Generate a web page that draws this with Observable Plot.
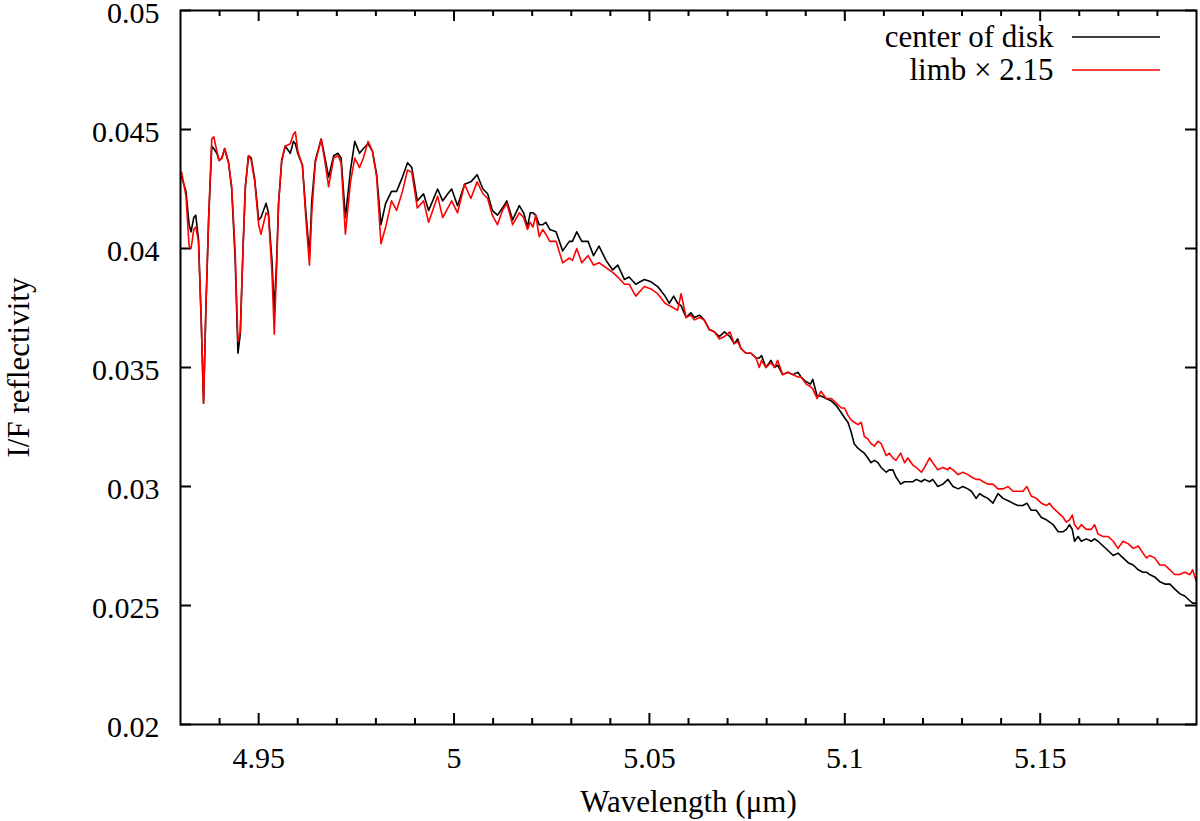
<!DOCTYPE html>
<html>
<head>
<meta charset="utf-8">
<script src="https://cdn.jsdelivr.net/npm/d3@7"></script>
<script src="https://cdn.jsdelivr.net/npm/@observablehq/plot@0.6"></script>
<style>
  html, body { margin: 0; padding: 0; background: #fff; }
  #chart { position: relative; width: 1200px; height: 821px; }
</style>
</head>
<body>
<div id="chart"></div>
<script>
// Wavelength grid (µm) shared by both spectra
const wavelength = [
  4.9303, 4.9314, 4.9322, 4.9327, 4.9334, 4.9339, 4.9346, 4.9353, 4.9359, 4.9365,
  4.9372, 4.9380, 4.9385, 4.9393, 4.9399, 4.9406, 4.9413, 4.9423, 4.9431, 4.9440,
  4.9447, 4.9453, 4.9460, 4.9466, 4.9474, 4.9481, 4.9490, 4.9500, 4.9506, 4.9519,
  4.9525, 4.9534, 4.9540, 4.9546, 4.9551, 4.9559, 4.9568, 4.9581, 4.9589, 4.9594,
  4.9600, 4.9612, 4.9621, 4.9630, 4.9636, 4.9645, 4.9660, 4.9671, 4.9679, 4.9692,
  4.9703, 4.9711, 4.9722, 4.9735, 4.9746, 4.9758, 4.9768, 4.9780, 4.9791, 4.9802,
  4.9813, 4.9825, 4.9840, 4.9853, 4.9868, 4.9881, 4.9892, 4.9906, 4.9922, 4.9935,
  4.9958, 4.9971, 4.9984, 4.9994, 5.0009, 5.0027, 5.0043, 5.0059, 5.0074, 5.0086,
  5.0098, 5.0111, 5.0124, 5.0135, 5.0150, 5.0167, 5.0178, 5.0188, 5.0195, 5.0202,
  5.0209, 5.0218, 5.0227, 5.0235, 5.0245, 5.0261, 5.0278, 5.0295, 5.0303, 5.0314,
  5.0327, 5.0343, 5.0357, 5.0371, 5.0389, 5.0406, 5.0419, 5.0436, 5.0448, 5.0465,
  5.0487, 5.0504, 5.0521, 5.0540, 5.0551, 5.0562, 5.0572, 5.0581, 5.0594, 5.0606,
  5.0615, 5.0628, 5.0640, 5.0653, 5.0666, 5.0679, 5.0692, 5.0706, 5.0717, 5.0726,
  5.0734, 5.0747, 5.0760, 5.0773, 5.0781, 5.0787, 5.0798, 5.0811, 5.0820, 5.0828,
  5.0841, 5.0854, 5.0867, 5.0880, 5.0888, 5.0901, 5.0912, 5.0918, 5.0929, 5.0939,
  5.0952, 5.0965, 5.0978, 5.0991, 5.0999, 5.1008, 5.1016, 5.1024, 5.1034, 5.1042,
  5.1050, 5.1059, 5.1067, 5.1076, 5.1085, 5.1093, 5.1106, 5.1114, 5.1123, 5.1131,
  5.1143, 5.1153, 5.1161, 5.1174, 5.1183, 5.1196, 5.1204, 5.1217, 5.1225, 5.1238,
  5.1251, 5.1264, 5.1268, 5.1277, 5.1290, 5.1302, 5.1315, 5.1324, 5.1336, 5.1345,
  5.1354, 5.1366, 5.1379, 5.1392, 5.1405, 5.1418, 5.1430, 5.1443, 5.1456, 5.1466,
  5.1477, 5.1490, 5.1503, 5.1516, 5.1524, 5.1533, 5.1546, 5.1559, 5.1567, 5.1575,
  5.1582, 5.1588, 5.1597, 5.1605, 5.1618, 5.1631, 5.1639, 5.1648, 5.1661, 5.1674,
  5.1687, 5.1699, 5.1712, 5.1725, 5.1738, 5.1751, 5.1763, 5.1772, 5.1780, 5.1793,
  5.1806, 5.1819, 5.1832, 5.1844, 5.1857, 5.1870, 5.1883, 5.1890, 5.1900
];

// I/F at the centre of the disk
const centerOfDisk = [
  0.0430, 0.0424, 0.0410, 0.0407, 0.0413, 0.0414, 0.0404, 0.0370, 0.0335, 0.0375,
  0.0412, 0.0443, 0.0442, 0.0440, 0.0437, 0.0438, 0.0442, 0.0436, 0.0425, 0.0395,
  0.0356, 0.0364, 0.0400, 0.0426, 0.0439, 0.0438, 0.0429, 0.0412, 0.0413, 0.0419,
  0.0415, 0.0395, 0.0374, 0.0395, 0.0419, 0.0437, 0.0443, 0.0440, 0.0445, 0.0444,
  0.0440, 0.0435, 0.0415, 0.0397, 0.0420, 0.0437, 0.0446, 0.0437, 0.0430, 0.0439,
  0.0440, 0.0438, 0.0413, 0.0433, 0.0445, 0.0440, 0.0442, 0.0444, 0.0441, 0.0431,
  0.0410, 0.0419, 0.0424, 0.0424, 0.0430, 0.0436, 0.0434, 0.0420, 0.0423, 0.0416,
  0.0425, 0.0420, 0.0423, 0.0425, 0.0418, 0.0427, 0.0428, 0.0431, 0.0425, 0.0423,
  0.0416, 0.0414, 0.0417, 0.0420, 0.0412, 0.0418, 0.0415, 0.0409, 0.0415, 0.0415,
  0.0414, 0.0410, 0.0410, 0.0411, 0.0408, 0.0407, 0.0399, 0.0403, 0.0403, 0.0407,
  0.0403, 0.0403, 0.0397, 0.0401, 0.0395, 0.0391, 0.0393, 0.0387, 0.0388, 0.0385,
  0.0387, 0.0386, 0.0384, 0.0380, 0.0377, 0.0380, 0.0377, 0.0376, 0.0371, 0.0373,
  0.0371, 0.0372, 0.0370, 0.0366, 0.0365, 0.0363, 0.0365, 0.0363, 0.0360, 0.0362,
  0.0358, 0.0356, 0.0356, 0.0354, 0.0354, 0.0355, 0.0350, 0.0353, 0.0350, 0.0351,
  0.0347, 0.0348, 0.0347, 0.0348, 0.0346, 0.0344, 0.0343, 0.0345, 0.0338, 0.0338,
  0.0337, 0.0336, 0.0334, 0.0331, 0.0329, 0.0327, 0.0323, 0.0318, 0.0316, 0.0315,
  0.0314, 0.0312, 0.0310, 0.0311, 0.0310, 0.0308, 0.0306, 0.0307, 0.0307, 0.0304,
  0.0301, 0.0302, 0.0302, 0.0302, 0.0303, 0.0302, 0.0303, 0.0302, 0.0303, 0.0300,
  0.0301, 0.0303, 0.0302, 0.0300, 0.0299, 0.0300, 0.0299, 0.0298, 0.0295, 0.0297,
  0.0296, 0.0295, 0.0293, 0.0297, 0.0295, 0.0294, 0.0293, 0.0292, 0.0292, 0.0293,
  0.0290, 0.0290, 0.0287, 0.0286, 0.0285, 0.0284, 0.0281, 0.0281, 0.0282, 0.0284,
  0.0282, 0.0277, 0.0279, 0.0277, 0.0278, 0.0277, 0.0278, 0.0277, 0.0275, 0.0273,
  0.0271, 0.0272, 0.0270, 0.0268, 0.0267, 0.0265, 0.0264, 0.0264, 0.0263, 0.0262,
  0.0260, 0.0259, 0.0259, 0.0257, 0.0255, 0.0254, 0.0252, 0.0251, 0.0251
];

// I/F at the limb, multiplied by 2.15
const limbScaled = [
  0.0432, 0.0422, 0.0401, 0.0400, 0.0408, 0.0409, 0.0403, 0.0370, 0.0335, 0.0375,
  0.0413, 0.0446, 0.0447, 0.0441, 0.0437, 0.0438, 0.0442, 0.0436, 0.0426, 0.0398,
  0.0361, 0.0365, 0.0400, 0.0426, 0.0439, 0.0437, 0.0428, 0.0410, 0.0406, 0.0415,
  0.0414, 0.0390, 0.0364, 0.0392, 0.0419, 0.0437, 0.0443, 0.0444, 0.0448, 0.0449,
  0.0441, 0.0435, 0.0412, 0.0393, 0.0415, 0.0436, 0.0446, 0.0435, 0.0426, 0.0438,
  0.0439, 0.0436, 0.0406, 0.0428, 0.0438, 0.0434, 0.0438, 0.0445, 0.0441, 0.0430,
  0.0402, 0.0409, 0.0420, 0.0416, 0.0424, 0.0433, 0.0432, 0.0417, 0.0420, 0.0411,
  0.0422, 0.0413, 0.0417, 0.0420, 0.0415, 0.0427, 0.0421, 0.0428, 0.0423, 0.0421,
  0.0414, 0.0410, 0.0416, 0.0419, 0.0410, 0.0415, 0.0413, 0.0408, 0.0411, 0.0409,
  0.0414, 0.0405, 0.0408, 0.0406, 0.0403, 0.0403, 0.0394, 0.0396, 0.0395, 0.0400,
  0.0394, 0.0397, 0.0393, 0.0394, 0.0392, 0.0390, 0.0388, 0.0385, 0.0385, 0.0380,
  0.0384, 0.0383, 0.0381, 0.0377, 0.0376, 0.0375, 0.0374, 0.0381, 0.0371, 0.0372,
  0.0370, 0.0371, 0.0370, 0.0366, 0.0365, 0.0362, 0.0363, 0.0365, 0.0360, 0.0361,
  0.0358, 0.0356, 0.0356, 0.0354, 0.0350, 0.0353, 0.0350, 0.0352, 0.0350, 0.0353,
  0.0347, 0.0348, 0.0347, 0.0346, 0.0346, 0.0343, 0.0342, 0.0341, 0.0337, 0.0340,
  0.0337, 0.0337, 0.0335, 0.0333, 0.0333, 0.0330, 0.0328, 0.0327, 0.0326, 0.0327,
  0.0321, 0.0320, 0.0318, 0.0317, 0.0319, 0.0318, 0.0313, 0.0314, 0.0312, 0.0311,
  0.0314, 0.0310, 0.0312, 0.0309, 0.0308, 0.0306, 0.0308, 0.0312, 0.0310, 0.0307,
  0.0308, 0.0307, 0.0308, 0.0307, 0.0305, 0.0306, 0.0305, 0.0304, 0.0303, 0.0303,
  0.0302, 0.0301, 0.0301, 0.0299, 0.0299, 0.0300, 0.0298, 0.0298, 0.0298, 0.0300,
  0.0296, 0.0295, 0.0293, 0.0292, 0.0293, 0.0291, 0.0289, 0.0287, 0.0285, 0.0286,
  0.0288, 0.0284, 0.0282, 0.0284, 0.0282, 0.0282, 0.0284, 0.0280, 0.0279, 0.0279,
  0.0277, 0.0274, 0.0277, 0.0276, 0.0274, 0.0275, 0.0272, 0.0270, 0.0271, 0.0270,
  0.0267, 0.0267, 0.0265, 0.0263, 0.0263, 0.0264, 0.0263, 0.0265, 0.0260
];

// Axis ticks and labels
const xMajorTicks = [4.95, 5, 5.05, 5.1, 5.15];
const xMinorTicks = [4.94, 4.96, 4.97, 4.98, 4.99, 5.01, 5.02, 5.03, 5.04, 5.06,
                     5.07, 5.08, 5.09, 5.11, 5.12, 5.13, 5.14, 5.16, 5.17, 5.18];
const yMajorTicks = [0.02, 0.025, 0.03, 0.035, 0.04, 0.045, 0.05];
const xTitle = "Wavelength (μm)";
const yTitle = "I/F reflectivity";
const seriesNames = ["center of disk", "limb × 2.15"];
const seriesColors = ["#000000", "#ff0000"];

const rows = wavelength.map((w, i) => ({w, center: centerOfDisk[i], limb: limbScaled[i]}));

const W = 1200, H = 821;
const M = {top: 10, right: 4, bottom: 97, left: 180};
const frameW = W - M.left - M.right;
const frameH = H - M.top - M.bottom;
const font = "'Liberation Serif', 'Times New Roman', serif";
const fs = 30;      // tick labels
const fsTitle = 31; // axis titles and key
const majorLen = 11, minorLen = 6;

const chart = Plot.plot({
  width: W,
  height: H,
  marginTop: M.top,
  marginRight: M.right,
  marginBottom: M.bottom,
  marginLeft: M.left,
  style: {fontFamily: font, fontSize: fs + "px", color: "#000", background: "#fff", overflow: "visible"},
  x: {domain: [4.93, 5.19]},
  y: {domain: [0.02, 0.05]},
  marks: [
    // tick labels only; tick marks are drawn inward below
    Plot.axisX(xMajorTicks, {tickSize: 0, tickPadding: 22, tickFormat: d => String(d), fontSize: fs, label: null}),
    Plot.axisY(yMajorTicks, {tickSize: 0, tickPadding: 21, dy: 3, tickFormat: d => String(d), fontSize: fs, label: null}),

    // inward ticks on all four sides
    Plot.ruleX(xMajorTicks, {insetTop: frameH - majorLen, stroke: "#000", strokeWidth: 2}),
    Plot.ruleX(xMajorTicks, {insetBottom: frameH - majorLen, stroke: "#000", strokeWidth: 2}),
    Plot.ruleX(xMinorTicks, {insetTop: frameH - minorLen, stroke: "#000", strokeWidth: 2}),
    Plot.ruleX(xMinorTicks, {insetBottom: frameH - minorLen, stroke: "#000", strokeWidth: 2}),
    Plot.ruleY(yMajorTicks, {insetRight: frameW - majorLen, stroke: "#000", strokeWidth: 2}),
    Plot.ruleY(yMajorTicks, {insetLeft: frameW - majorLen, stroke: "#000", strokeWidth: 2}),

    // spectra
    Plot.line(rows, {x: "w", y: "center", stroke: seriesColors[0], strokeWidth: 1.6}),
    Plot.line(rows, {x: "w", y: "limb", stroke: seriesColors[1], strokeWidth: 1.6}),

    Plot.frame({stroke: "#000", strokeWidth: 2}),

    // axis titles
    Plot.text([xTitle], {frameAnchor: "bottom", lineAnchor: "middle", dy: 78, fontSize: fsTitle, fill: "#000"}),
    Plot.text([yTitle], {frameAnchor: "left", textAnchor: "middle", lineAnchor: "middle", dx: -161, rotate: -90, fontSize: fsTitle, fill: "#000"}),

    // key labels
    Plot.text([seriesNames[0]], {frameAnchor: "top-right", lineAnchor: "middle", dx: -143, dy: 27, textAnchor: "end", fontSize: fsTitle, fill: "#000"}),
    Plot.text([seriesNames[1]], {frameAnchor: "top-right", lineAnchor: "middle", dx: -143, dy: 60, textAnchor: "end", fontSize: fsTitle, fill: "#000"})
  ]
});

document.getElementById("chart").appendChild(chart);

// key line samples, anchored to the top-right corner of the frame
const xRange = chart.scale("x").range;
const yRange = chart.scale("y").range;
const frameRight = Math.max(...xRange), frameTop = Math.min(...yRange);
const svgSel = d3.select(chart);
seriesColors.forEach((c, i) => {
  svgSel.append("line")
    .attr("x1", frameRight - 124).attr("x2", frameRight - 36)
    .attr("y1", frameTop + 27 + 33 * i).attr("y2", frameTop + 27 + 33 * i)
    .attr("stroke", c).attr("stroke-width", 1.6);
});
</script>
</body>
</html>
